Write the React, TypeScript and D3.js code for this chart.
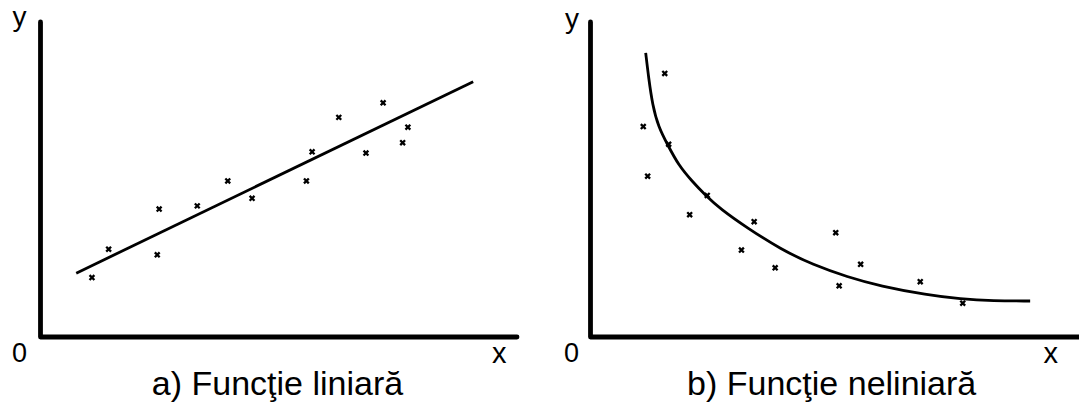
import React from "react";
import * as d3 from "d3";

// Panel a) – observations scattered around a straight trend
const linX = [10.8, 14.3, 24.9, 24.5, 32.9, 39.3, 44.4, 55.8, 57.0, 62.6, 68.3, 71.9, 76.0, 77.1];
const linY = [18.8, 27.8, 40.5, 26.0, 41.5, 49.4, 43.9, 49.4, 58.6, 69.5, 58.2, 74.1, 61.5, 66.4];
const linFitX = [7.5, 90.8];
const linFitY = [20.2, 80.8];

// Panel b) – observations scattered around a decaying curve
const nlX = [15.2, 10.8, 16.0, 11.7, 23.9, 20.3, 33.5, 30.9, 37.8, 50.2, 55.3, 50.9, 67.5, 76.2];
const nlY = [83.4, 66.6, 61.0, 50.9, 44.8, 38.7, 36.5, 27.5, 21.9, 33.0, 23.0, 16.2, 17.5, 10.7];
const nlFitX = [11.3, 11.9, 12.7, 13.9, 15.8, 18.0, 20.9, 23.5, 26.6, 32.1, 38.9, 45.6, 52.6, 59.3, 68.9, 75.7, 82.4, 90.0];
const nlFitY = [89.9, 82.0, 73.4, 66.5, 60.8, 54.4, 49.1, 44.9, 40.5, 34.5, 27.8, 22.8, 19.0, 16.1, 13.3, 12.0, 11.4, 11.4];

const titles = ["a) Funcţie liniară", "b) Funcţie neliniară"];
const axisNames = { x: "x", y: "y", origin: "0" };

const W = 1079;
const H = 408;
const FONT = "'Liberation Sans', Arial, Helvetica, sans-serif";

type PanelProps = {
  left: number;
  right: number;
  axisEnd: number;
  xs: number[];
  ys: number[];
  fitX: number[];
  fitY: number[];
  curve: d3.CurveFactory;
  title: string;
  titleX: number;
  yLabel: [number, number];
  originLabel: [number, number];
  xLabel: [number, number];
};

function Panel(p: PanelProps) {
  const top = 21;
  const bottom = 337;
  const x = d3.scaleLinear().domain([0, 100]).range([p.left, p.right]);
  const y = d3.scaleLinear().domain([0, 100]).range([bottom, top]);

  const fit = d3
    .line<number>()
    .x((_, i) => x(p.fitX[i]))
    .y((v) => y(v))
    .curve(p.curve)(p.fitY) as string;

  const marker = d3.symbol().type(d3.symbolX).size(17)() as string;

  const axisPath = `M${x(0)},${y(100) + 1}L${x(0)},${y(0)}L${p.axisEnd},${y(0)}`;

  return (
    <g>
      <path d={axisPath} fill="none" stroke="#000" strokeWidth={4.8} strokeLinejoin="round" strokeLinecap="round" />
      <path d={fit} fill="none" stroke="#000" strokeWidth={2.8} />
      {p.xs.map((v, i) => (
        <path
          key={i}
          d={marker}
          transform={`translate(${x(v)},${y(p.ys[i])})`}
          fill="none"
          stroke="#000"
          strokeWidth={2.3}
        />
      ))}
      <text x={p.yLabel[0]} y={p.yLabel[1]} fontSize={28} fontFamily={FONT}>
        {axisNames.y}
      </text>
      <text x={p.originLabel[0]} y={p.originLabel[1]} fontSize={27} fontFamily={FONT}>
        {axisNames.origin}
      </text>
      <text x={p.xLabel[0]} y={p.xLabel[1]} fontSize={29} fontFamily={FONT}>
        {axisNames.x}
      </text>
      <text x={p.titleX} y={395} fontSize={34} fontFamily={FONT} textAnchor="middle">
        {p.title}
      </text>
    </g>
  );
}

export default function App() {
  return (
    <svg
      width={W}
      height={H}
      viewBox={`0 0 ${W} ${H}`}
      style={{ position: "absolute", left: 0, top: 0, background: "#fff" }}
    >
      <rect width={W} height={H} fill="#fff" />
      <Panel
        left={40.5}
        right={517}
        axisEnd={517}
        xs={linX}
        ys={linY}
        fitX={linFitX}
        fitY={linFitY}
        curve={d3.curveLinear}
        title={titles[0]}
        titleX={277.5}
        yLabel={[12.5, 26]}
        originLabel={[12, 362]}
        xLabel={[492, 362.5]}
      />
      <Panel
        left={590.5}
        right={1079}
        axisEnd={1085}
        xs={nlX}
        ys={nlY}
        fitX={nlFitX}
        fitY={nlFitY}
        curve={d3.curveBasis}
        title={titles[1]}
        titleX={831.7}
        yLabel={[565, 28]}
        originLabel={[564, 362]}
        xLabel={[1043.5, 362.5]}
      />
    </svg>
  );
}
